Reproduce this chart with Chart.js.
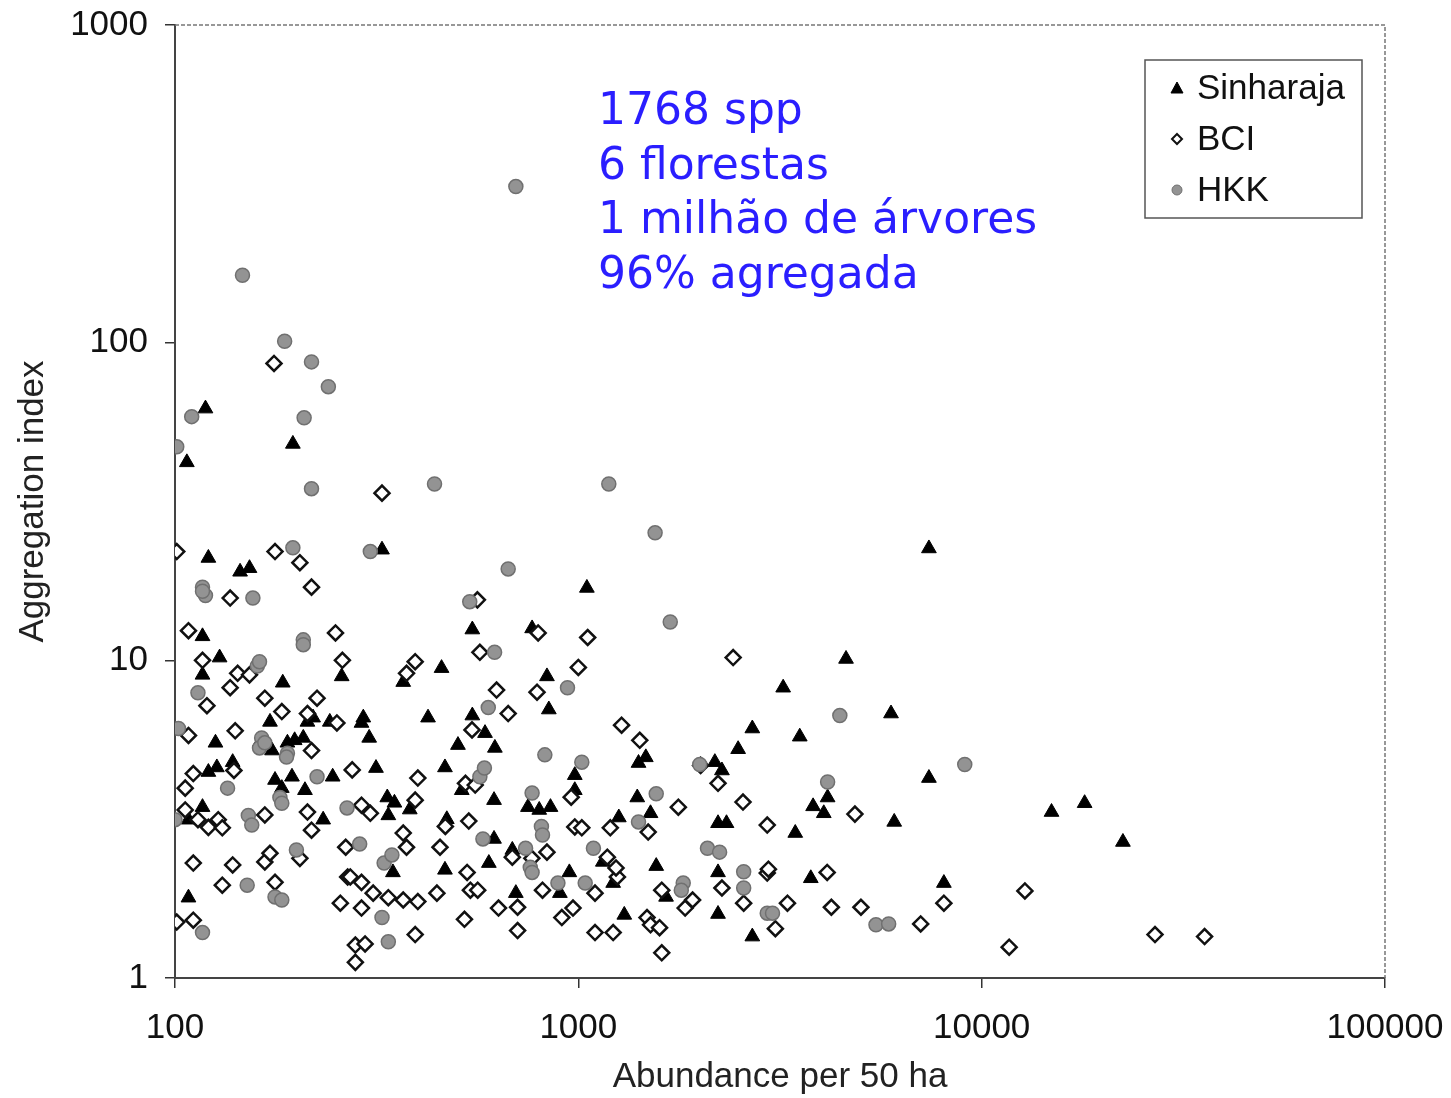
<!DOCTYPE html>
<html>
<head>
<meta charset="utf-8">
<script src="https://cdn.jsdelivr.net/npm/chart.js@4.4.1/dist/chart.umd.min.js"></script>
<style>
  html, body { margin: 0; padding: 0; background: #fff; }
  #wrap { width: 1451px; height: 1098px; }
</style>
</head>
<body>
<div id="wrap"><canvas id="chart" width="1451" height="1098"></canvas></div>
<script>
// abundance per 50 ha, aggregation index
const sinharaja = [
  [119, 62], [196, 48], [107, 42], [7400, 22.5], [121, 21], [145, 19], [153, 19.5],
  [326, 22.3], [1050, 16.9], [546, 12.5], [768, 12.6], [117, 11.9], [129, 10.2],
  [117, 9], [259, 8.9], [368, 8.54], [458, 9.45], [836, 8.9], [185, 8.5], [845, 7.0],
  [546, 6.7], [424, 6.6], [293, 6.6], [290, 6.35], [303, 5.7], [4610, 10.1],
  [3220, 8.2], [5960, 6.8], [2700, 6.1], [2490, 5.25], [3540, 5.75], [172, 6.4],
  [213, 6.4], [220, 6.6], [242, 6.4], [126, 5.5], [162, 5.5], [174, 5.2], [190, 5.5],
  [198, 5.6], [208, 5.7], [121, 4.45], [127, 4.6], [139, 4.78], [177, 4.2], [195, 4.3],
  [184, 3.96], [246, 4.3], [210, 3.9], [117, 3.45], [108, 3.15], [233, 3.15],
  [108, 1.79], [315, 4.58], [336, 3.7], [350, 3.56], [338, 3.25], [382, 3.39],
  [503, 5.41], [587, 5.9], [621, 5.3], [467, 4.6], [514, 3.9], [618, 3.63], [750, 3.45],
  [800, 3.38], [853, 3.45], [980, 4.35], [980, 3.9], [472, 3.16], [347, 2.15],
  [618, 2.74], [686, 2.53], [467, 2.19], [600, 2.3], [700, 1.85], [900, 1.85],
  [950, 2.15], [1410, 4.75], [1470, 4.95], [1260, 3.2], [1510, 3.3], [1400, 3.7],
  [1150, 2.32], [1220, 1.99], [1560, 2.25], [1650, 1.8], [1300, 1.58], [2220, 1.59],
  [2700, 1.35], [2220, 3.07], [2330, 3.07], [3450, 2.86], [2180, 4.78], [2270, 4.5],
  [3820, 3.47], [4150, 3.7], [4060, 3.3], [3770, 2.06], [2220, 2.15], [7400, 4.26],
  [6070, 3.1], [14900, 3.33], [18000, 3.55], [22400, 2.68], [8060, 1.99]
];

const bci = [
  [176, 86], [101, 22], [177, 22], [204, 20.3], [218, 17], [137, 15.7], [108, 12.4],
  [250, 12.2], [326, 33.6], [562, 15.5], [795, 12.2], [1055, 11.8], [117, 10],
  [260, 10], [143, 9.1], [153, 9.0], [137, 8.2], [120, 7.2], [167, 7.6], [184, 6.9],
  [225, 7.6], [213, 6.8], [252, 6.35], [108, 5.8], [141, 6.0], [570, 10.6], [394, 9.9],
  [375, 9.1], [1000, 9.5], [790, 7.94], [627, 8.06], [670, 6.8], [2420, 10.2],
  [1280, 6.25], [1420, 5.6], [218, 5.2], [111, 4.4], [140, 4.5], [106, 3.96],
  [106, 3.38], [114, 3.15], [121, 2.98], [128, 3.15], [131, 2.97], [213, 3.33],
  [218, 2.92], [167, 3.26], [111, 2.3], [139, 2.27], [167, 2.32], [172, 2.47],
  [204, 2.38], [268, 2.08], [131, 1.96], [177, 2.0], [101, 1.5], [111, 1.52],
  [280, 1.27], [280, 1.12], [290, 3.5], [305, 3.3], [394, 3.63], [400, 4.26],
  [275, 4.52], [545, 6.04], [525, 4.1], [555, 4.05], [960, 3.71], [980, 2.99],
  [535, 3.12], [468, 3.0], [368, 2.86], [375, 2.58], [265, 2.58], [454, 2.58],
  [686, 2.4], [767, 2.38], [836, 2.49], [530, 2.15], [815, 1.89], [707, 1.67],
  [634, 1.66], [540, 1.89], [563, 1.89], [446, 1.85], [272, 2.08], [290, 2.0],
  [310, 1.85], [338, 1.79], [368, 1.76], [400, 1.74], [290, 1.66], [257, 1.72],
  [522, 1.53], [910, 1.55], [970, 1.66], [707, 1.41], [1100, 1.39], [394, 1.37],
  [296, 1.28], [1220, 1.39], [1610, 1.2], [1480, 1.55], [1510, 1.47], [1590, 1.44],
  [1840, 1.66], [1920, 1.76], [1610, 1.89], [1100, 1.85], [1250, 2.08], [1240, 2.22],
  [1180, 2.4], [1200, 2.97], [1490, 2.88], [1770, 3.45], [2560, 3.58], [2940, 3.03],
  [2220, 4.1], [2010, 4.67], [4850, 3.28], [4140, 2.15], [4240, 1.67], [3300, 1.72],
  [2940, 2.14], [2960, 2.2], [2270, 1.92], [2570, 1.72], [3080, 1.43], [1020, 2.97],
  [5020, 1.67], [8060, 1.72], [7060, 1.48], [12800, 1.88], [11700, 1.25],
  [26900, 1.37], [35700, 1.35]
];

const hkk = [
  [700, 310], [147, 163], [187, 101], [218, 87], [240, 72.7], [110, 58.5], [209, 58],
  [101, 47], [218, 34.7], [440, 35.9], [1190, 35.9], [1550, 25.2], [196, 22.6],
  [305, 22], [670, 19.4], [117, 17], [119, 16], [117, 16.5], [156, 15.7], [538, 15.3],
  [1690, 13.2], [208, 11.6], [208, 11.2], [620, 10.6], [160, 9.6], [162, 9.9],
  [114, 7.9], [940, 8.2], [598, 7.1], [4450, 6.7], [102, 6.1], [164, 5.7], [162, 5.3],
  [167, 5.5], [190, 5.1], [189, 4.96], [135, 3.96], [225, 4.3], [182, 3.7], [184, 3.55],
  [100, 3.15], [152, 3.25], [155, 3.03], [267, 3.43], [200, 2.53], [151, 1.96],
  [177, 1.8], [184, 1.76], [117, 1.39], [287, 2.64], [330, 2.3], [345, 2.44],
  [326, 1.55], [338, 1.3], [826, 5.04], [1020, 4.78], [570, 4.3], [585, 4.58],
  [768, 3.82], [810, 3.0], [815, 2.82], [580, 2.74], [740, 2.56], [760, 2.23],
  [768, 2.15], [890, 1.99], [1040, 1.99], [1090, 2.56], [1410, 3.1], [1560, 3.8],
  [1820, 1.99], [1800, 1.89], [2090, 2.56], [2240, 2.49], [2570, 2.16], [2570, 1.92],
  [2940, 1.6], [3030, 1.6], [4150, 4.14], [9080, 4.7], [5470, 1.47], [5880, 1.48],
  [2000, 4.7]
];

const xTicks = [100, 1000, 10000, 100000];
const yTicks = [1, 10, 100, 1000];
const seriesNames = ['Sinharaja', 'BCI', 'HKK'];
const noteLines = ['1768 spp', '6 florestas', '1 milhão de árvores', '96% agregada'];

const toPoints = (arr) => arr.map(([x, y]) => ({ x: x, y: y }));

const tickFont = { family: '"Liberation Sans", Arial, sans-serif', size: 35 };

// legend box + blue note + dashed top/right frame
const extras = {
  id: 'extras',
  afterDraw(chart) {
    const ctx = chart.ctx;
    const a = chart.chartArea;
    ctx.save();

    ctx.strokeStyle = '#777';
    ctx.lineWidth = 1.5;
    ctx.setLineDash([4, 2]);
    ctx.beginPath();
    ctx.moveTo(a.left, a.top);
    ctx.lineTo(a.right, a.top);
    ctx.lineTo(a.right, a.bottom);
    ctx.stroke();
    ctx.setLineDash([]);

    // note
    ctx.fillStyle = 'rgb(42,30,255)';
    ctx.font = '44px "DejaVu Sans", Verdana, sans-serif';
    ctx.textAlign = 'left';
    ctx.textBaseline = 'alphabetic';
    noteLines.forEach((t, i) => {
      ctx.fillText(t, 598, 124 + i * 54.5);
    });

    // legend
    ctx.strokeStyle = '#555';
    ctx.lineWidth = 1.5;
    ctx.strokeRect(1145, 60, 217, 158);
    ctx.font = '35px "Liberation Sans", Arial, sans-serif';
    ctx.textBaseline = 'middle';
    const ys = [88, 139, 190];
    seriesNames.forEach((name, i) => {
      const ds = chart.data.datasets.find((d) => d.label === name);
      const y = ys[i];
      ctx.fillStyle = ds.backgroundColor;
      ctx.strokeStyle = ds.borderColor;
      ctx.lineWidth = ds.pointStyle === 'rectRot' ? 2 : 1;
      ctx.beginPath();
      if (ds.pointStyle === 'triangle') {
        ctx.moveTo(1177, y - 6); ctx.lineTo(1183, y + 5); ctx.lineTo(1171, y + 5); ctx.closePath();
      } else if (ds.pointStyle === 'rectRot') {
        ctx.moveTo(1177, y - 5); ctx.lineTo(1182, y); ctx.lineTo(1177, y + 5); ctx.lineTo(1172, y); ctx.closePath();
      } else {
        ctx.arc(1177, y, 5, 0, Math.PI * 2);
      }
      ctx.fill();
      ctx.stroke();
      ctx.fillStyle = '#111';
      ctx.fillText(name, 1197, y + 1);
    });
    ctx.restore();
  }
};

new Chart(document.getElementById('chart'), {
  type: 'scatter',
  data: {
    datasets: [
      {
        label: 'HKK',
        data: toPoints(hkk),
        pointStyle: 'circle',
        pointRadius: 7,
        backgroundColor: '#939393',
        borderColor: '#707070',
        borderWidth: 1.5
      },
      {
        label: 'BCI',
        data: toPoints(bci),
        pointStyle: 'rectRot',
        pointRadius: 7.5,
        backgroundColor: '#ffffff',
        borderColor: '#111111',
        borderWidth: 2.5
      },
      {
        label: 'Sinharaja',
        data: toPoints(sinharaja),
        pointStyle: 'triangle',
        pointRadius: 8.5,
        backgroundColor: '#000000',
        borderColor: '#000000',
        borderWidth: 1
      }
    ]
  },
  options: {
    responsive: false,
    animation: false,
    devicePixelRatio: 1,
    layout: { padding: { left: 0, right: 66, top: 25, bottom: 0 } },
    plugins: {
      legend: { display: false },
      tooltip: { enabled: false }
    },
    scales: {
      x: {
        type: 'logarithmic',
        min: 100,
        max: 100000,
        afterBuildTicks: (scale) => { scale.ticks = xTicks.map((v) => ({ value: v })); },
        afterFit: (scale) => {
          scale.height = 120;
          scale.paddingLeft = 0;
          scale.paddingRight = 0;
        },
        ticks: {
          font: tickFont,
          color: '#111',
          padding: 19,
          maxRotation: 0,
          autoSkip: false,
          callback: (v) => String(v)
        },
        grid: { drawOnChartArea: false, drawTicks: true, tickLength: 10, color: '#333', lineWidth: 1.5 },
        border: { display: true, color: '#444', width: 2 },
        title: {
          display: true,
          text: 'Abundance per 50 ha',
          font: tickFont,
          color: '#222',
          padding: { top: 0, bottom: 0 }
        }
      },
      y: {
        type: 'logarithmic',
        min: 1,
        max: 1000,
        afterBuildTicks: (scale) => { scale.ticks = yTicks.map((v) => ({ value: v })); },
        afterFit: (scale) => {
          scale.width = 175;
          scale.paddingTop = 0;
          scale.paddingBottom = 0;
        },
        ticks: {
          font: tickFont,
          color: '#111',
          padding: 17,
          autoSkip: false,
          callback: (v) => String(v)
        },
        grid: { drawOnChartArea: false, drawTicks: true, tickLength: 10, color: '#333', lineWidth: 1.5 },
        border: { display: true, color: '#444', width: 2 },
        title: {
          display: true,
          text: 'Aggregation index',
          font: tickFont,
          color: '#222',
          padding: { top: 12, bottom: 0 }
        }
      }
    }
  },
  plugins: [extras]
});
</script>
</body>
</html>
